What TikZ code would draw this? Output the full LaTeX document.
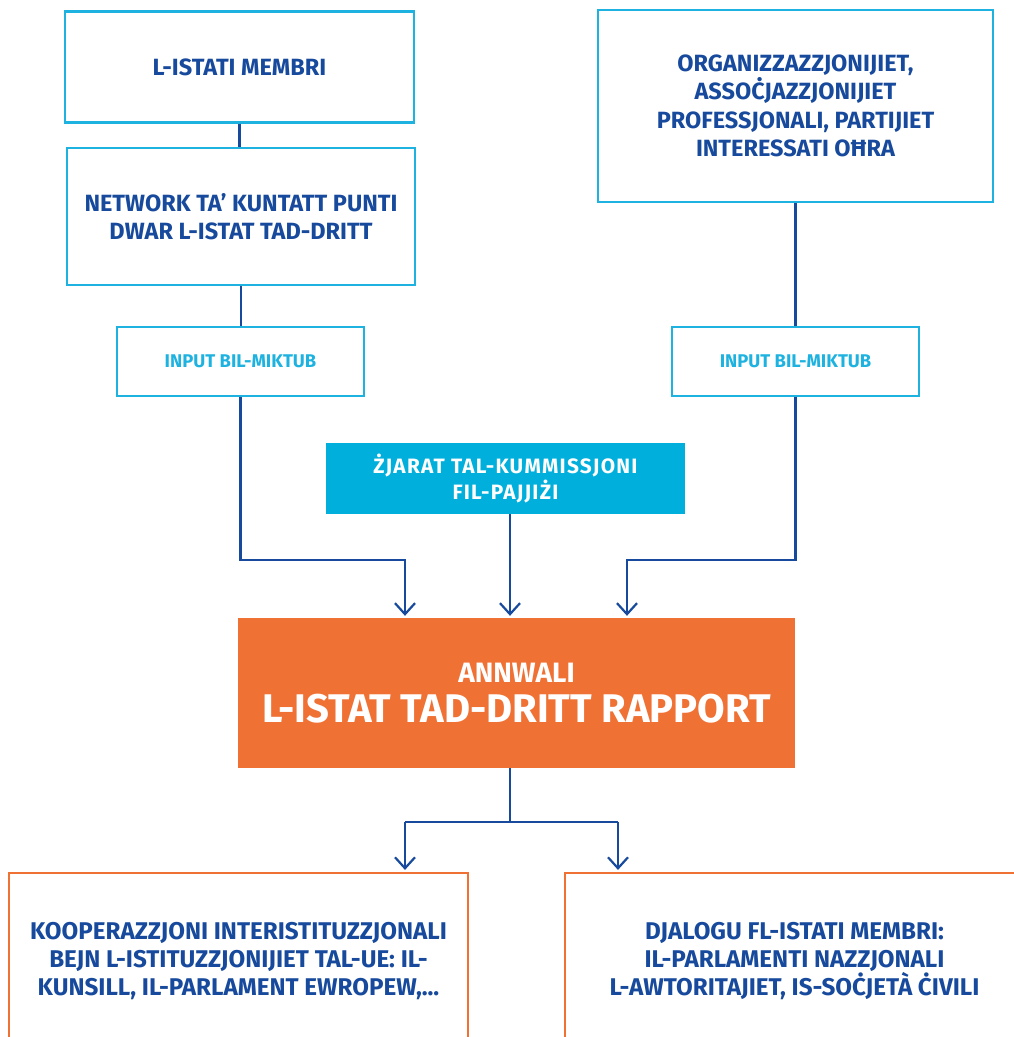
\documentclass[tikz,border=0pt]{standalone}
\usepackage{fontspec}
\setmainfont{Fira Sans}
\usetikzlibrary{arrows.meta}
\definecolor{eublue}{HTML}{174A9C}
\definecolor{eucyan}{HTML}{1DB2DF}
\definecolor{eucyanfill}{HTML}{00AFDB}
\definecolor{euorange}{HTML}{F07134}
\begin{document}
\begin{tikzpicture}[x=1pt,y=-1pt,
  cbox/.style={draw=eucyan, line width=2.2pt, inner sep=0pt, align=center, text=eublue,
    font=\bfseries\fontsize{23.5}{28.5}\selectfont},
  ibox/.style={draw=eucyan, line width=2.2pt, inner sep=0pt, align=center, text=eucyan,
    font=\bfseries\fontsize{18.4}{22}\selectfont},
  fbox/.style={fill=eucyanfill, inner sep=0pt, align=center, text=white,
    font=\bfseries\fontsize{20.8}{26}\selectfont\addfontfeatures{LetterSpace=6}},
  obox/.style={fill=euorange, inner sep=0pt, align=center, text=white,
    font=\bfseries\fontsize{40}{40}\selectfont},
  bbox/.style={draw=euorange, line width=2.2pt, inner sep=0pt, align=center, text=eublue,
    font=\bfseries\fontsize{24.2}{28}\selectfont},
  conn/.style={draw=eublue, line width=2.2pt},
  arr/.style={conn, -{Straight Barb[length=11pt,width=20pt]}, shorten >=2pt}
]
\useasboundingbox (0,0) rectangle (1014,1037);

\node[cbox, minimum width=349pt, minimum height=111pt] (ms) at (239.5,67) {L-ISTATI MEMBRI};
\node[cbox, minimum width=348pt, minimum height=137pt] (net) at (241,216.5)
  {NETWORK TA’ KUNTATT PUNTI\\DWAR L-ISTAT TAD-DRITT};
\node[ibox, minimum width=247pt, minimum height=69pt] (inL) at (240.5,361.5) {INPUT BIL-MIKTUB};
\node[cbox, minimum width=395pt, minimum height=192pt] (org) at (795.5,106)
  {ORGANIZZAZZJONIJIET,\\ASSOĊJAZZJONIJIET\\PROFESSJONALI, PARTIJIET\\INTERESSATI OĦRA};
\node[ibox, minimum width=247pt, minimum height=69pt] (inR) at (795.5,361.5) {INPUT BIL-MIKTUB};
\node[fbox, minimum width=359pt, minimum height=71pt] (viz) at (505.5,478.5)
  {ŻJARAT TAL-KUMMISSJONI\\FIL-PAJJIŻI};
\node[obox, minimum width=557pt, minimum height=150pt] (rep) at (516.5,693)
  {{\fontsize{28}{40}\selectfont ANNWALI}\\L-ISTAT TAD-DRITT RAPPORT};
\node[bbox, minimum width=459pt, minimum height=176pt] (lb) at (238.5,961)
  {KOOPERAZZJONI INTERISTITUZZJONALI\\BEJN L-ISTITUZZJONIJIET TAL-UE: IL-\\KUNSILL, IL-PARLAMENT EWROPEW,...};
\node[bbox, minimum width=459pt, minimum height=176pt] (rb) at (794.5,961)
  {DJALOGU FL-ISTATI MEMBRI:\\IL-PARLAMENTI NAZZJONALI\\L-AWTORITAJIET, IS-SOĊJETÀ ĊIVILI};

\coordinate (jL) at (405,560);
\coordinate (jR) at (627,560);
\coordinate (jV) at (510,560);
\coordinate (jB) at (510,822);
\coordinate (bL) at (405,822);
\coordinate (bR) at (618,822);

\draw[conn] (ms.south) -- (ms.south |- net.north);
\draw[conn] (net.south) -- (net.south |- inL.north);
\draw[conn] (org.south) -- (org.south |- inR.north);
\draw[arr] (inL.south) |- (jL) -- (jL |- rep.north);
\draw[arr] (jV |- viz.south) -- (jV |- rep.north);
\draw[arr] (inR.south) |- (jR) -- (jR |- rep.north);
\draw[conn] (jB |- rep.south) -- (jB);
\draw[conn] (bL) -- (bR);
\draw[arr] (bL) -- (bL |- lb.north);
\draw[arr] (bR) -- (bR |- rb.north);
\end{tikzpicture}
\end{document}
